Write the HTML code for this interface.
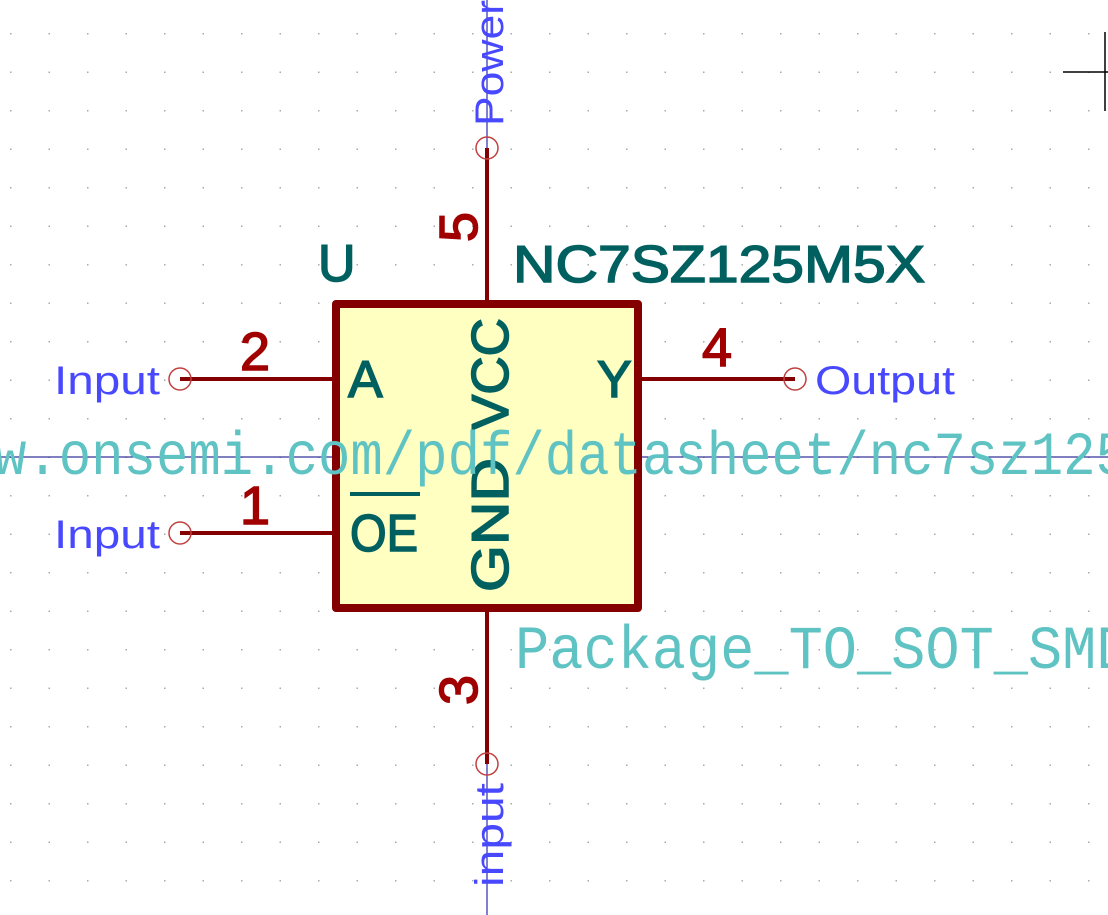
<!DOCTYPE html>
<html><head><meta charset="utf-8"><style>
html,body{margin:0;padding:0;background:#fff;}
svg{display:block;}
text{font-family:"Liberation Sans",sans-serif;}
.m{font-family:"Liberation Mono",monospace;}
</style></head><body>
<svg width="1108" height="915" viewBox="0 0 1108 915" xmlns="http://www.w3.org/2000/svg">
<defs>
<pattern id="g" x="10" y="33" width="38.5" height="38.5" patternUnits="userSpaceOnUse">
<rect x="0" y="0" width="1.5" height="1.5" fill="#aaa"/>
</pattern>
</defs>
<rect width="1108" height="915" fill="url(#g)"/>
<line x1="0" y1="457" x2="1108" y2="457" stroke="#000080" stroke-width="1"/>
<line x1="487" y1="0" x2="487" y2="148" stroke="#0000a0" stroke-width="1"/>
<line x1="487" y1="764" x2="487" y2="915" stroke="#0000a0" stroke-width="1"/>
<line x1="1063" y1="72" x2="1108" y2="72" stroke="#000" stroke-width="1.5"/>
<line x1="1105" y1="32" x2="1105" y2="111" stroke="#000" stroke-width="1.5"/>
<rect x="336" y="304" width="302" height="304" fill="#ffffc2" stroke="#840000" stroke-width="8" stroke-linejoin="round"/>
<g stroke="#840000" stroke-width="4">
<line x1="180" y1="379" x2="332" y2="379"/>
<line x1="180" y1="533" x2="332" y2="533"/>
<line x1="642" y1="379" x2="795" y2="379"/>
<line x1="487" y1="148" x2="487" y2="300"/>
<line x1="487" y1="612" x2="487" y2="764"/>
</g>
<g fill="none" stroke="#c04040" stroke-width="1.5">
<circle cx="180" cy="379" r="11"/>
<circle cx="180" cy="533" r="11"/>
<circle cx="795" cy="379" r="11"/>
<circle cx="487" cy="148" r="11"/>
<circle cx="487" cy="764" r="11"/>
</g>
<g fill="#a00000" stroke="#a00000" stroke-width="1.5" font-size="54">
<text x="240" y="370">2</text>
<text x="240" y="524">1</text>
<text x="702" y="366">4</text>
<text transform="translate(477,242) rotate(-90)">5</text>
<text transform="translate(477,705) rotate(-90)">3</text>
</g>
<g fill="#006060" stroke="#006060" stroke-width="1.5" font-size="52">
<text x="348" y="397">A</text>
<text x="597" y="397">Y</text>
<text x="350" y="551" textLength="68" lengthAdjust="spacingAndGlyphs">OE</text>
<text transform="translate(508,430) rotate(-90)" textLength="112" lengthAdjust="spacingAndGlyphs">VCC</text>
<text transform="translate(508,592) rotate(-90)" textLength="134" lengthAdjust="spacingAndGlyphs">GND</text>
<text x="318" y="281">U</text>
<text x="513" y="282" textLength="412" lengthAdjust="spacingAndGlyphs">NC7SZ125M5X</text>
</g>
<line x1="350" y1="494" x2="420" y2="494" stroke="#006060" stroke-width="4"/>
<g fill="#4848ff" font-size="40">
<text x="160" y="394" text-anchor="end" textLength="106" lengthAdjust="spacingAndGlyphs">Input</text>
<text x="160" y="548" text-anchor="end" textLength="106" lengthAdjust="spacingAndGlyphs">Input</text>
<text x="815" y="394" textLength="140" lengthAdjust="spacingAndGlyphs">Output</text>
<text transform="translate(503,126) rotate(-90)" textLength="126" lengthAdjust="spacingAndGlyphs">Power</text>
<text transform="translate(503,887) rotate(-90)" textLength="104" lengthAdjust="spacingAndGlyphs">input</text>
</g>
<text class="m" transform="translate(0,474) scale(1,1.14)" x="-330" y="0" fill="#5fc3c3" font-size="54">https://www.onsemi.com/pdf/datasheet/nc7sz125-d.pdf</text>
<text class="m" transform="translate(0,668) scale(1,1.08)" x="515" y="0" fill="#5fc3c3" font-size="57">Package_TO_SOT_SMD:SOT-23-5</text>
</svg>
</body></html>
